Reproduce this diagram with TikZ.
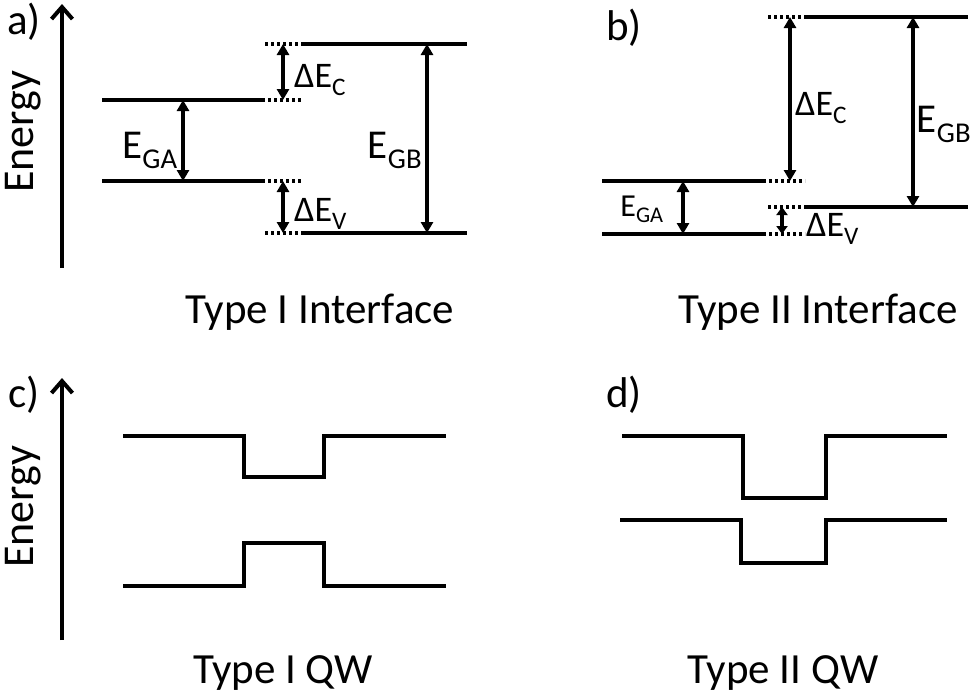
\documentclass[tikz,border=0pt]{standalone}
\usepackage{fontspec}
\setmainfont{Carlito}
\usetikzlibrary{arrows.meta}
\begin{document}
\begin{tikzpicture}[x=1pt,y=-1pt,
  level/.style={line width=3.4pt},
  dotline/.style={line width=3.4pt,dash pattern=on 3pt off 3pt},
  gap/.style={line width=3.2pt,{Triangle[length=11pt,width=12pt]}-{Triangle[length=11pt,width=12pt]}},
  sgap/.style={line width=3.2pt,{Triangle[length=8pt,width=11pt]}-{Triangle[length=8pt,width=11pt]}},
  axis/.style={line width=4pt,-{Straight Barb[length=12pt,width=21pt,line width=4pt]}},
  big/.style={font=\fontsize{41}{46}\selectfont,inner sep=0pt},
  ttl/.style={font=\fontsize{43}{48}\selectfont,inner sep=0pt},
  en/.style={font=\fontsize{44}{48}\selectfont,inner sep=0pt},
  lab/.style={font=\fontsize{43}{48}\selectfont,inner sep=0pt},
  sym/.style={font=\fontsize{36}{40}\selectfont,inner sep=0pt},
  ssym/.style={font=\fontsize{32}{36}\selectfont,inner sep=0pt}]
\useasboundingbox (0,0) rectangle (975,697);

% ---------- panel a ----------
\coordinate (aaxb) at (62,268); \coordinate (aaxt) at (62,4);
\draw[axis] (aaxb) -- (aaxt);
\node[lab] (alab) at (24,22) {a)};
\node[en,rotate=90] (aen) at (23,132) {Energy};
\coordinate (aA1) at (102,100); \coordinate (aA2) at (262,100);
\coordinate (aA3) at (102,181); \coordinate (aA4) at (262,181);
\draw[level] (aA1) -- (aA2);
\draw[level] (aA3) -- (aA4);
\coordinate (aAd2) at (302,100); \coordinate (aAd4) at (302,181);
\draw[dotline] (aA2) -- (aAd2);
\draw[dotline] (aA4) -- (aAd4);
\coordinate (aB1) at (302,44); \coordinate (aB2) at (467,44);
\coordinate (aB3) at (302,233); \coordinate (aB4) at (467,233);
\coordinate (aBd1) at (265,44); \coordinate (aBd3) at (265,233);
\draw[level] (aB1) -- (aB2);
\draw[level] (aB3) -- (aB4);
\draw[dotline] (aBd1) -- (aB1);
\draw[dotline] (aBd3) -- (aB3);
\coordinate (agat) at (183,100); \coordinate (agab) at (183,181);
\draw[gap] (agat) -- (agab);
\coordinate (adct) at (283,44); \coordinate (adcb) at (283,100);
\draw[gap] (adct) -- (adcb);
\coordinate (advt) at (283,181); \coordinate (advb) at (283,233);
\draw[gap] (advt) -- (advb);
\coordinate (agbt) at (427,44); \coordinate (agbb) at (427,233);
\draw[gap] (agbt) -- (agbb);
\node[big] (aega) at (150,150) {E\textsubscript{GA}};
\node[big] (aegb) at (395,150) {E\textsubscript{GB}};
\node[sym,anchor=west] (adec) at (294,80) {ΔE\textsubscript{C}};
\node[sym,anchor=west] (adev) at (294,214) {ΔE\textsubscript{V}};
\node[ttl] (atitle) at (320,312) {Type I Interface};

% ---------- panel b ----------
\node[lab] (blab) at (624,28) {b)};
\coordinate (bA1) at (602,181); \coordinate (bA2) at (763,181);
\coordinate (bA3) at (602,234); \coordinate (bA4) at (763,234);
\coordinate (bAd2) at (805,181); \coordinate (bAd4) at (805,234);
\draw[level] (bA1) -- (bA2);
\draw[level] (bA3) -- (bA4);
\draw[dotline] (bA2) -- (bAd2);
\draw[dotline] (bA4) -- (bAd4);
\coordinate (bB1) at (805,17); \coordinate (bB2) at (968,17);
\coordinate (bB3) at (805,207); \coordinate (bB4) at (968,207);
\coordinate (bBd1) at (768,17); \coordinate (bBd3) at (768,207);
\draw[level] (bB1) -- (bB2);
\draw[level] (bB3) -- (bB4);
\draw[dotline] (bBd1) -- (bB1);
\draw[dotline] (bBd3) -- (bB3);
\coordinate (bgat) at (683,181); \coordinate (bgab) at (683,234);
\draw[gap] (bgat) -- (bgab);
\coordinate (bdct) at (790,17); \coordinate (bdcb) at (790,181);
\draw[gap] (bdct) -- (bdcb);
\coordinate (bgbt) at (913,17); \coordinate (bgbb) at (913,207);
\draw[gap] (bgbt) -- (bgbb);
\coordinate (bdvt) at (782,207); \coordinate (bdvb) at (782,234);
\draw[sgap] (bdvt) -- (bdvb);
\node[ssym] (bega) at (642,209) {E\textsubscript{GA}};
\node[sym,anchor=west] (bdec) at (795,108) {ΔE\textsubscript{C}};
\node[sym,anchor=west] (bdev) at (806,229) {ΔE\textsubscript{V}};
\node[big] (begb) at (944,124) {E\textsubscript{GB}};
\node[ttl] (btitle) at (818,312) {Type II Interface};

% ---------- panel c ----------
\coordinate (caxb) at (62,640); \coordinate (caxt) at (62,378);
\draw[axis] (caxb) -- (caxt);
\node[lab] (clab) at (24,395) {c)};
\node[en,rotate=90] (cen) at (23,507) {Energy};
\coordinate (cu1) at (123,436); \coordinate (cu2) at (244,436);
\coordinate (cu3) at (244,477); \coordinate (cu4) at (324,477);
\coordinate (cu5) at (324,436); \coordinate (cu6) at (446,436);
\draw[level,line join=miter] (cu1) -- (cu2) -- (cu3) -- (cu4) -- (cu5) -- (cu6);
\coordinate (cl1) at (123,586); \coordinate (cl2) at (244,586);
\coordinate (cl3) at (244,543); \coordinate (cl4) at (324,543);
\coordinate (cl5) at (324,586); \coordinate (cl6) at (446,586);
\draw[level,line join=miter] (cl1) -- (cl2) -- (cl3) -- (cl4) -- (cl5) -- (cl6);
\node[ttl] (ctitle) at (283,673) {Type I QW};

% ---------- panel d ----------
\node[lab] (dlab) at (624,395) {d)};
\coordinate (du1) at (622,436); \coordinate (du2) at (743,436);
\coordinate (du3) at (743,498); \coordinate (du4) at (826,498);
\coordinate (du5) at (826,436); \coordinate (du6) at (947,436);
\draw[level,line join=miter] (du1) -- (du2) -- (du3) -- (du4) -- (du5) -- (du6);
\coordinate (dl1) at (620,520); \coordinate (dl2) at (741,520);
\coordinate (dl3) at (741,563); \coordinate (dl4) at (826,563);
\coordinate (dl5) at (826,520); \coordinate (dl6) at (947,520);
\draw[level,line join=miter] (dl1) -- (dl2) -- (dl3) -- (dl4) -- (dl5) -- (dl6);
\node[ttl] (dtitle) at (783,673) {Type II QW};
\end{tikzpicture}
\end{document}
